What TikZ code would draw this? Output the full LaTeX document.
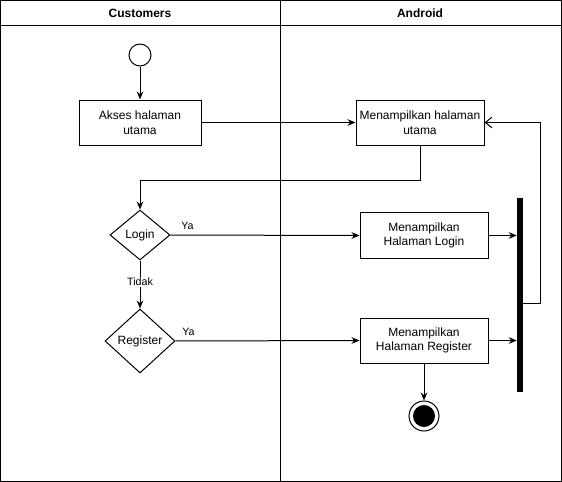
\documentclass[tikz,border=0pt]{standalone}
\usepackage{fontspec}
\setmainfont{Liberation Sans}
\usetikzlibrary{arrows.meta,shapes.geometric}
\begin{document}
\begin{tikzpicture}[x=0.75pt,y=-0.75pt,
  txt/.style={font=\fontsize{9}{11}\selectfont,align=center},
  actbox/.style={draw,txt,inner sep=0pt,line width=0.75pt},
  decision/.style={draw,diamond,inner sep=0pt,txt,line width=0.75pt},
  flow/.style={-{Stealth[length=6pt,width=5pt]},line width=0.75pt},
  openflow/.style={-{Straight Barb[length=5pt,width=8pt]},line width=0.75pt},
  yalbl/.style={above,font=\fontsize{8}{10}\selectfont},
  lbl/.style={font=\fontsize{8}{10}\selectfont,fill=white,inner sep=1pt},
  lane/.style={line width=0.75pt}]
\useasboundingbox (0,0) rectangle (562,482);
% swimlanes
\draw[lane] (0.5,0.5) rectangle (561.5,481.5);
\draw[lane] (0.5,25) -- (561.5,25);
\draw[lane] (280.5,0.5) -- (280.5,481.5);
\node[font=\fontsize{9}{11}\selectfont\bfseries] (hc) at (140,13) {Customers};
\node[font=\fontsize{9}{11}\selectfont\bfseries] (ha) at (420,13) {Android};
% start
\node[draw,circle,minimum size=16.5pt,inner sep=0pt,line width=0.75pt] (start) at (140,55) {};
% activities
\node[actbox,minimum width=91.5pt,minimum height=33.75pt] (akses) at (140,122.5) {Akses halaman\\utama};
\node[actbox,minimum width=96pt,minimum height=33.75pt] (utama) at (420,122.5) {Menampilkan halaman\\utama};
\node[actbox,minimum width=96pt,minimum height=34.5pt] (login) at (424,235.5) {Menampilkan\\Halaman Login};
\node[actbox,minimum width=96pt,minimum height=33.75pt] (reg) at (424,340.5) {Menampilkan\\Halaman Register};
% decisions
\node[decision,minimum width=45pt,minimum height=37.5pt] (dlogin) at (140,235) {Login};
\node[decision,minimum width=52.5pt,minimum height=48pt] (dreg) at (140,341) {Register};
% join bar
\node[fill=black,minimum width=4.5pt,minimum height=145.5pt,inner sep=0pt] (bar) at (520,295) {};
% end
\node[draw,circle,minimum size=22.5pt,inner sep=0pt,line width=0.75pt] (stop) at (424,416) {};
\node[fill=black,circle,minimum size=16.5pt,inner sep=0pt] (stopin) at (stop.center) {};
\coordinate (c1) at (420,180);
\coordinate (c2) at (140,180);
\coordinate (c3) at (540,303);
\coordinate (c4) at (540,122.5);
% flows
\draw[flow] (start) -- (akses);
\draw[flow] (akses) -- (utama);
\draw[flow] (utama.south) -- (c1) -- (c2) -- (dlogin.north);
\draw[flow] (dlogin.east) -- node[pos=0.09,yalbl] {Ya} (login.west);
\draw[flow] (dlogin.south) -- node[lbl,pos=0.45] {Tidak} (dreg.north);
\draw[flow] (dreg.east) -- node[pos=0.07,yalbl] {Ya} (reg.west);
\draw[flow] (login.east) -- (login.east -| bar.west);
\draw[flow] (reg.east) -- (reg.east -| bar.west);
\draw[openflow] (bar.east |- c3) -- (c3) -- (c4) -- (utama.east);
\draw[flow] (reg.south) -- (stop.north);
\end{tikzpicture}
\end{document}
